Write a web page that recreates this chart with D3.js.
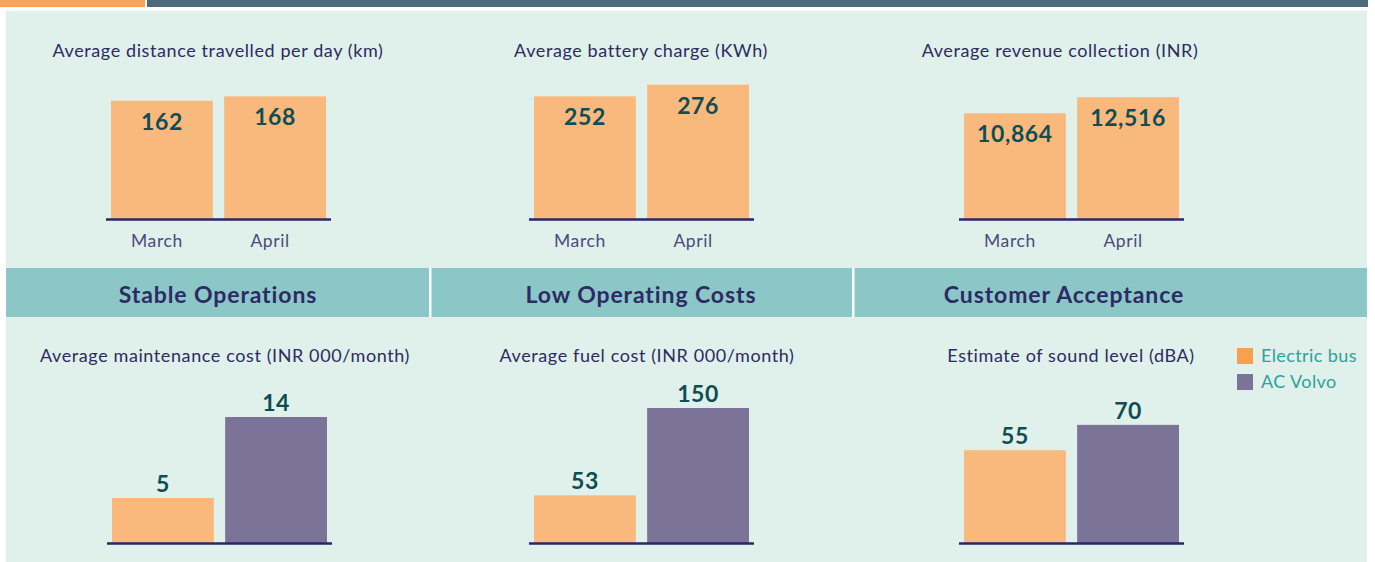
<!DOCTYPE html>
<html>
<head>
<meta charset="utf-8">
<script src="https://cdn.jsdelivr.net/npm/d3@7"></script>
<style>
  body { margin: 0; background: #fff; }
  svg { display: block; font-family: Lato, "Noto Sans", sans-serif; }
  .title { fill: #2c2b63; font-size: 18px; letter-spacing: 0.6px; }
  .value { fill: #0f4d55; font-size: 23px; font-weight: 700; letter-spacing: 0.6px; }
  .cat { fill: #4a4a80; font-size: 17.5px; letter-spacing: 0.6px; }
  .section { fill: #2c2b63; font-size: 23px; font-weight: 700; letter-spacing: 0.9px; }
  .legend-text { fill: #2aa39b; font-size: 18px; letter-spacing: 0.4px; }
</style>
</head>
<body>
<div id="chart"></div>
<script>
// top row: March vs April
var months = ["March", "April"];
var distanceValues = [162, 168];
var batteryValues = [252, 276];
var revenueValues = [10864, 12516];

// bottom row: Electric bus vs AC Volvo
var busTypes = ["Electric bus", "AC Volvo"];
var maintenanceValues = [5, 14];
var fuelValues = [53, 150];
var soundValues = [55, 70];

var sections = ["Stable Operations", "Low Operating Costs", "Customer Acceptance"];

var colors = { "March": "#fab97c", "April": "#fab97c", "Electric bus": "#fab97c", "AC Volvo": "#7b7398" };
var legendColors = ["#f9a050", "#7b7398"];

var W = 1375, H = 562;

var svg = d3.select("#chart").append("svg")
  .attr("width", W)
  .attr("height", H);

// top strip
svg.append("rect").attr("x", 0).attr("y", 0).attr("width", 145).attr("height", 7).attr("fill", "#f9a45a");
svg.append("rect").attr("x", 147).attr("y", 0).attr("width", 1221).attr("height", 7).attr("fill", "#4d6a7c");

// panel
svg.append("rect").attr("x", 6).attr("y", 11).attr("width", 1361).attr("height", H - 11).attr("fill", "#e0f0ea");

// section band
svg.append("rect").attr("x", 6).attr("y", 268).attr("width", 1361).attr("height", 49).attr("fill", "#8cc7c8");
[430, 853].forEach(function(x) {
  svg.append("rect").attr("x", x - 1).attr("y", 268).attr("width", 2.5).attr("height", 49).attr("fill", "#ffffff");
});

var sectionX = [218, 641, 1064];
svg.selectAll(".section")
   .data(sections)
   .enter()
   .append("text")
     .attr("class", "section")
     .attr("x", function(d, i) { return sectionX[i]; })
     .attr("y", 303)
     .attr("text-anchor", "middle")
     .text(function(d) { return d; });

function drawChart(opts) {
  var g = svg.append("g");
  var x = d3.scaleBand()
    .domain(opts.cats)
    .range([opts.x0, opts.x0 + 215])
    .paddingInner(0.1)
    .paddingOuter(0);
  var y = d3.scaleLinear()
    .domain([0, opts.max])
    .range([opts.base, opts.base - opts.h]);

  g.append("text")
   .attr("class", "title")
   .attr("x", opts.titleX)
   .attr("y", opts.titleY)
   .attr("text-anchor", "middle")
   .text(opts.title);

  g.selectAll(".bar")
   .data(opts.values)
   .enter()
   .append("rect")
     .attr("class", "bar")
     .attr("x", function(d, i) { return x(opts.cats[i]); })
     .attr("width", x.bandwidth())
     .attr("y", function(d) { return y(d); })
     .attr("height", function(d) { return opts.base - y(d); })
     .attr("fill", function(d, i) { return colors[opts.cats[i]]; });

  // baseline
  g.append("line")
   .attr("x1", opts.x0 - 5).attr("x2", opts.x0 + 220)
   .attr("y1", opts.base + 0.5).attr("y2", opts.base + 0.5)
   .attr("stroke", "#2b2762").attr("stroke-width", 2.5);

  g.selectAll(".value")
   .data(opts.values)
   .enter()
   .append("text")
     .attr("class", "value")
     .attr("x", function(d, i) { return x(opts.cats[i]) + x.bandwidth() / 2; })
     .attr("y", function(d) { return opts.inside ? y(d) + 29 : y(d) - 6; })
     .attr("text-anchor", "middle")
     .text(function(d) { return d3.format(",")(d); });

  if (opts.showCats) {
    g.selectAll(".cat")
     .data(opts.cats)
     .enter()
     .append("text")
       .attr("class", "cat")
       .attr("x", function(d) { return x(d) + x.bandwidth() / 2 - 5; })
       .attr("y", 247)
       .attr("text-anchor", "middle")
       .text(function(d) { return d; });
  }
}

var topBase = 219, topH = 146;
drawChart({ title: "Average distance travelled per day (km)", titleX: 218, titleY: 57, cats: months, values: distanceValues, max: 200, x0: 111, base: topBase, h: topH, inside: true, showCats: true });
drawChart({ title: "Average battery charge (KWh)", titleX: 641, titleY: 57, cats: months, values: batteryValues, max: 300, x0: 534, base: topBase, h: topH, inside: true, showCats: true });
drawChart({ title: "Average revenue collection (INR)", titleX: 1060, titleY: 57, cats: months, values: revenueValues, max: 15000, x0: 964, base: topBase, h: topH, inside: true, showCats: true });

var botBase = 543, botH = 135;
drawChart({ title: "Average maintenance cost (INR 000/month)", titleX: 225, titleY: 362, cats: busTypes, values: maintenanceValues, max: 15, x0: 112, base: botBase, h: botH, inside: false, showCats: false });
drawChart({ title: "Average fuel cost (INR 000/month)", titleX: 647, titleY: 362, cats: busTypes, values: fuelValues, max: 150, x0: 534, base: botBase, h: botH, inside: false, showCats: false });
drawChart({ title: "Estimate of sound level (dBA)", titleX: 1071, titleY: 362, cats: busTypes, values: soundValues, max: 80, x0: 964, base: botBase, h: botH, inside: false, showCats: false });

// legend
var legend = svg.selectAll(".legend")
  .data(busTypes)
  .enter()
  .append("g")
    .attr("class", "legend")
    .attr("transform", function(d, i) { return "translate(1237," + (348 + i * 26) + ")"; });

legend.append("rect")
  .attr("width", 16).attr("height", 16)
  .attr("fill", function(d, i) { return legendColors[i]; });

legend.append("text")
  .attr("class", "legend-text")
  .attr("x", 24)
  .attr("y", 14)
  .text(function(d) { return d; });
</script>
</body>
</html>
